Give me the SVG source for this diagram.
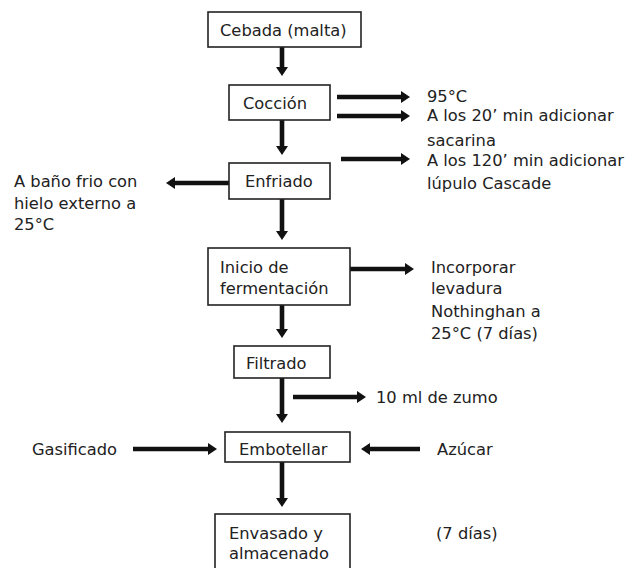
<svg xmlns="http://www.w3.org/2000/svg" width="630" height="568" viewBox="0 0 630 568">
<style>
.box{fill:#fff;stroke:#222;stroke-width:1.6}
text{font-family:"DejaVu Sans","Open Sans",sans-serif;font-size:16.3px;fill:#222}
.ar{stroke:#111;stroke-width:4.6;fill:none}
</style>
<defs>
<marker id="ah" markerUnits="userSpaceOnUse" markerWidth="9" markerHeight="12" viewBox="0 0 9 12" refX="1" refY="6" orient="auto">
<path d="M0,0 L9,6 L0,12 z" fill="#111"/>
</marker>
</defs>
<rect width="630" height="568" fill="#fff"/>
<g id="connectors">
<line class="ar" x1="282" y1="47" x2="282" y2="68" marker-end="url(#ah)"/>
<line class="ar" x1="337" y1="97" x2="402" y2="97" marker-end="url(#ah)"/>
<line class="ar" x1="337" y1="116" x2="402" y2="116" marker-end="url(#ah)"/>
<line class="ar" x1="341" y1="159" x2="402" y2="159" marker-end="url(#ah)"/>
<line class="ar" x1="282" y1="120" x2="282" y2="147" marker-end="url(#ah)"/>
<line class="ar" x1="229" y1="183" x2="174" y2="183" marker-end="url(#ah)"/>
<line class="ar" x1="282" y1="199" x2="282" y2="232" marker-end="url(#ah)"/>
<line class="ar" x1="350" y1="269" x2="406" y2="269" marker-end="url(#ah)"/>
<line class="ar" x1="282" y1="305" x2="282" y2="330" marker-end="url(#ah)"/>
<line class="ar" x1="282" y1="378" x2="282" y2="415" marker-end="url(#ah)"/>
<line class="ar" x1="293" y1="397" x2="358" y2="397" marker-end="url(#ah)"/>
<line class="ar" x1="133" y1="449" x2="209" y2="449" marker-end="url(#ah)"/>
<line class="ar" x1="420" y1="449" x2="369" y2="449" marker-end="url(#ah)"/>
<line class="ar" x1="282" y1="462" x2="282" y2="499" marker-end="url(#ah)"/>
</g>
<g id="cebada"><rect class="box" x="208" y="12" width="153" height="35"/><text x="220" y="36">Cebada (malta)</text></g>
<g id="coccion"><rect class="box" x="229" y="85" width="101" height="35"/><text x="243" y="109">Cocción</text></g>
<g id="enfriado"><rect class="box" x="229" y="163" width="101" height="36"/><text x="245" y="187">Enfriado</text></g>
<g id="inicio"><rect class="box" x="208" y="248" width="142" height="57"/><text x="220" y="273">Inicio de</text><text x="220" y="294">fermentación</text></g>
<g id="filtrado"><rect class="box" x="234" y="346" width="96" height="32"/><text x="246" y="369">Filtrado</text></g>
<g id="embotellar"><rect class="box" x="225" y="432" width="125" height="30"/><text x="239" y="455">Embotellar</text></g>
<g id="envasado"><rect class="box" x="215" y="514" width="135" height="62"/><text x="229" y="539">Envasado y</text><text x="229" y="559">almacenado</text></g>
<g id="notes">
<text x="427" y="102">95°C</text>
<text x="427" y="121">A los 20’ min adicionar</text>
<text x="427" y="146">sacarina</text>
<text x="427" y="166">A los 120’ min adicionar</text>
<text x="427" y="189">lúpulo Cascade</text>
<text x="14" y="187">A baño frio con</text>
<text x="14" y="209">hielo externo a</text>
<text x="14" y="230">25°C</text>
<text x="431" y="273">Incorporar</text>
<text x="431" y="294">levadura</text>
<text x="431" y="317">Nothinghan a</text>
<text x="431" y="339">25°C (7 días)</text>
<text x="376" y="403">10 ml  de zumo</text>
<text x="32" y="455">Gasificado</text>
<text x="437" y="455">Azúcar</text>
<text x="436" y="539">(7 días)</text>
</g>
</svg>
